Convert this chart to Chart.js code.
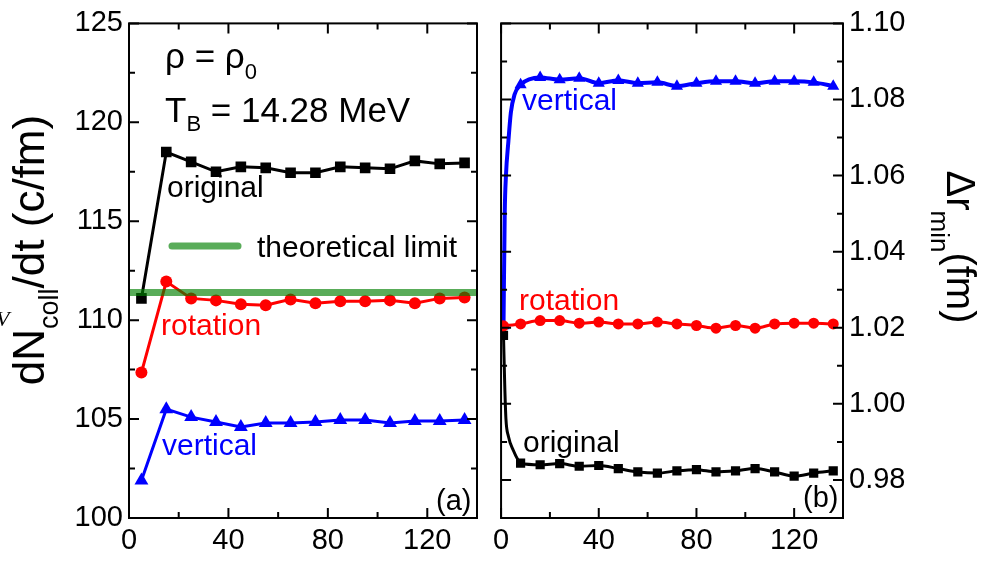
<!DOCTYPE html>
<html>
<head>
<meta charset="utf-8">
<script src="https://cdn.jsdelivr.net/npm/chart.js@4/dist/chart.umd.min.js"></script>
<style>
  html, body { margin: 0; padding: 0; background: #fff; }
  #page { position: relative; width: 984px; height: 561px; overflow: hidden; background: #fff; }
  .panel { position: absolute; top: 0; height: 561px; }
  #panelA { left: 0; width: 490px; }
  #panelB { left: 487px; width: 497px; }
</style>
</head>
<body>
<div id="page">
  <div class="panel" id="panelA"><canvas id="chartA"></canvas></div>
  <div class="panel" id="panelB"><canvas id="chartB"></canvas></div>
</div>
<script>
// ---- (a) collision rate dN_coll/dt (c/fm) versus time ----
const timeA = [5, 15, 25, 35, 45, 55, 65, 75, 85, 95, 105, 115, 125, 135];
const rateOriginal = [111.1, 118.5, 118.0, 117.5, 117.75, 117.7, 117.45, 117.45, 117.75, 117.7, 117.65, 118.05, 117.9, 117.95];
const rateRotation = [107.35, 111.95, 111.1, 111.0, 110.8, 110.75, 111.05, 110.85, 110.95, 110.95, 111.0, 110.85, 111.1, 111.15];
const rateVertical = [101.9, 105.5, 105.1, 104.85, 104.6, 104.8, 104.8, 104.85, 104.95, 104.95, 104.8, 104.9, 104.9, 104.95];
const limitTime = [0, 140];
const limitRate = [111.4, 111.4];

// ---- (b) minimum separation Δr_min (fm) versus time ----
const timeB = [1, 8, 16, 24, 32, 40, 48, 56, 64, 72, 80, 88, 96, 104, 112, 120, 128, 136];
const sepOriginal = [1.018, 0.9844, 0.9840, 0.9843, 0.9836, 0.9838, 0.9830, 0.9821, 0.9818, 0.9824, 0.9827, 0.9821, 0.9824, 0.9830, 0.9821, 0.9810, 0.9818, 0.9824];
const sepRotation = [1.0205, 1.0210, 1.0219, 1.0219, 1.0212, 1.0215, 1.0210, 1.0210, 1.0215, 1.0210, 1.0206, 1.0199, 1.0206, 1.0199, 1.0210, 1.0212, 1.0212, 1.0210];
const sepVertical = [1.0205, 1.0839, 1.0858, 1.0852, 1.0856, 1.0843, 1.0850, 1.0843, 1.0845, 1.0835, 1.0843, 1.0848, 1.0848, 1.0843, 1.0848, 1.0848, 1.0845, 1.0835];
// fast initial transient (curve only, no markers)
const earlyTimeOriginal = [1.5, 2, 3, 5, 7];
const earlySepOriginal = [1.005, 0.996, 0.9915, 0.9878, 0.9852];
const earlyTimeVertical = [1.5, 2, 3, 4, 5.5];
const earlySepVertical = [1.050, 1.060, 1.069, 1.0765, 1.0813];

// ---- axis ticks ----
const timeTicks = [0, 40, 80, 120];
const timeMinor = [20, 60, 100];
const rateTicks = [100, 105, 110, 115, 120, 125];
const rateMinor = [102.5, 107.5, 112.5, 117.5, 122.5];
const sepTicks = [0.98, 1.00, 1.02, 1.04, 1.06, 1.08, 1.10];
const sepMinor = [0.97, 0.99, 1.01, 1.03, 1.05, 1.07, 1.09];

const FONT = '"Liberation Sans", Arial, sans-serif';
Chart.defaults.font.family = FONT;
Chart.defaults.color = '#000';

const pts = (xs, ys) => xs.map((x, i) => ({ x, y: ys[i] }));
const withEarly = (xs, ys, ex, ey) => pts(xs, ys).concat(pts(ex, ey)).sort((a, b) => a.x - b.x);

// boxed frame with inward major/minor ticks on all four sides
function frameTicks(xMajor, xMinor, yMajor, yMinor) {
  return {
    id: 'frameTicks',
    afterDatasetsDraw(chart) {
      const { ctx, chartArea: a, scales } = chart;
      const xs = scales.x, ys = scales.y;
      ctx.save();
      ctx.strokeStyle = '#000';
      ctx.lineWidth = 2;
      ctx.beginPath();
      const mark = (vals, len, horiz) => vals.forEach(v => {
        if (horiz) {
          const p = xs.getPixelForValue(v);
          ctx.moveTo(p, a.bottom); ctx.lineTo(p, a.bottom - len);
          ctx.moveTo(p, a.top); ctx.lineTo(p, a.top + len);
        } else {
          const p = ys.getPixelForValue(v);
          ctx.moveTo(a.left, p); ctx.lineTo(a.left + len, p);
          ctx.moveTo(a.right, p); ctx.lineTo(a.right - len, p);
        }
      });
      mark(xMajor, 10, true); mark(xMinor, 6, true);
      mark(yMajor, 10, false); mark(yMinor, 6, false);
      ctx.stroke();
      ctx.strokeRect(a.left, a.top, a.right - a.left, a.bottom - a.top);
      ctx.restore();
    }
  };
}

// text made of runs: [string, size, baselineShift]
function drawRuns(ctx, x, y, runs, color, rot, centred) {
  ctx.save();
  ctx.translate(x, y);
  ctx.rotate(rot || 0);
  ctx.fillStyle = color;
  ctx.textAlign = 'left';
  ctx.textBaseline = 'alphabetic';
  let w = 0;
  runs.forEach(r => { ctx.font = r[1] + 'px ' + FONT; w += ctx.measureText(r[0]).width; });
  let cx = centred ? -w / 2 : 0;
  runs.forEach(r => {
    ctx.font = r[1] + 'px ' + FONT;
    ctx.fillText(r[0], cx, r[2] || 0);
    cx += ctx.measureText(r[0]).width;
  });
  ctx.restore();
}

function textLayer(draw) {
  return { id: 'textLayer', afterDraw(chart) { draw(chart.ctx); } };
}

function scaleOpts(min, max, ticks, fitProp, fitVal, extra) {
  return Object.assign({
    type: 'linear', min, max,
    grid: { display: false, drawTicks: false },
    border: { display: false },
    ticks: { font: { size: 29 }, color: '#000', padding: 6, maxRotation: 0, autoSkip: false,
             callback: v => (max < 2 ? v.toFixed(2) : String(v)) },
    afterBuildTicks: s => { s.ticks = ticks.map(v => ({ value: v })); },
    afterFit: s => { s[fitProp] = fitVal; }
  }, extra || {});
}

const common = {
  responsive: true, maintainAspectRatio: false, animation: false, devicePixelRatio: 1,
  plugins: { legend: { display: false }, tooltip: { enabled: false } }
};

// ---------- panel (a) ----------
new Chart(document.getElementById('chartA'), {
  type: 'line',
  data: {
    datasets: [
      { label: 'theoretical limit', data: pts(limitTime, limitRate), borderColor: 'rgba(0,128,0,0.65)',
        borderWidth: 7, pointRadius: 0, borderCapStyle: 'butt', order: 0 },
      { label: 'original', data: pts(timeA, rateOriginal), borderColor: '#000', backgroundColor: '#000',
        borderWidth: 3, pointStyle: 'rect', pointRadius: 7.5, pointBorderWidth: 0, order: 1 },
      { label: 'rotation', data: pts(timeA, rateRotation), borderColor: '#ff0000', backgroundColor: '#ff0000',
        borderWidth: 3, pointStyle: 'circle', pointRadius: 6, pointBorderWidth: 0, order: 2 },
      { label: 'vertical', data: pts(timeA, rateVertical), borderColor: '#0000ff', backgroundColor: '#0000ff',
        borderWidth: 3, pointStyle: 'triangle', pointRadius: 8, pointBorderWidth: 0, order: 3 }
    ]
  },
  options: Object.assign({}, common, {
    layout: { padding: { top: 20, right: 13, left: 0, bottom: 0 } },
    scales: {
      x: scaleOpts(0, 140, timeTicks, 'height', 43),
      y: scaleOpts(100, 125, rateTicks, 'width', 129, { position: 'left' })
    }
  }),
  plugins: [
    frameTicks(timeTicks, timeMinor, rateTicks, rateMinor),
    textLayer(ctx => {
      drawRuns(ctx, 165, 68, [['ρ = ρ', 35], ['0', 22, 11]], '#000');
      drawRuns(ctx, 165, 122, [['T', 35], ['B', 22, 9], [' = 14.28 MeV', 35]], '#000');
      drawRuns(ctx, 167, 197, [['original', 30]], '#000');
      drawRuns(ctx, 257, 257, [['theoretical limit', 30]], '#000');
      drawRuns(ctx, 161, 335, [['rotation', 30]], '#ff0000');
      drawRuns(ctx, 162, 455, [['vertical', 30]], '#0000ff');
      drawRuns(ctx, 436, 510, [['(a)', 29]], '#000');
      // legend swatch for the limit line
      ctx.save();
      ctx.strokeStyle = 'rgba(0,128,0,0.65)';
      ctx.lineWidth = 7; ctx.lineCap = 'round';
      ctx.beginPath(); ctx.moveTo(172, 246); ctx.lineTo(238, 246); ctx.stroke();
      ctx.restore();
      // y-axis title
      drawRuns(ctx, 44, 250, [['dN', 44], ['coll', 27, 14], ['/dt (c/fm)', 44]], '#000', -Math.PI / 2, true);
      ctx.save();
      ctx.font = 'italic 22px "Liberation Serif", serif';
      ctx.fillStyle = '#000';
      ctx.fillText('V', -4, 326);
      ctx.restore();
    })
  ]
});

// ---------- panel (b) ----------
const markerOnly = r => ctx => (timeB.includes(ctx.raw.x) ? r : 0);
new Chart(document.getElementById('chartB'), {
  type: 'line',
  data: {
    datasets: [
      { label: 'rotation', data: pts(timeB, sepRotation), borderColor: '#ff0000', backgroundColor: '#ff0000',
        borderWidth: 3, pointStyle: 'circle', pointRadius: markerOnly(5.5), pointBorderWidth: 0,
        cubicInterpolationMode: 'monotone', order: 1 },
      { label: 'vertical', data: withEarly(timeB, sepVertical, earlyTimeVertical, earlySepVertical),
        borderColor: '#0000ff', backgroundColor: '#0000ff', borderWidth: 4, pointStyle: 'triangle',
        pointRadius: markerOnly(7), pointBorderWidth: 0, cubicInterpolationMode: 'monotone', order: 2 },
      { label: 'original', data: withEarly(timeB, sepOriginal, earlyTimeOriginal, earlySepOriginal),
        borderColor: '#000', backgroundColor: '#000', borderWidth: 3, pointStyle: 'rect',
        pointRadius: markerOnly(6.5), pointBorderWidth: 0, cubicInterpolationMode: 'monotone', order: 3 }
    ]
  },
  options: Object.assign({}, common, {
    layout: { padding: { top: 20, right: 0, left: 9, bottom: 0 } },
    scales: {
      x: scaleOpts(0, 140, timeTicks, 'height', 43),
      y: scaleOpts(0.97, 1.10, sepTicks, 'width', 141, { position: 'right' })
    }
  }),
  plugins: [
    frameTicks(timeTicks, timeMinor, sepTicks, sepMinor),
    textLayer(ctx => {
      drawRuns(ctx, 35, 110, [['vertical', 30]], '#0000ff');
      drawRuns(ctx, 32, 310, [['rotation', 30]], '#ff0000');
      drawRuns(ctx, 36, 452, [['original', 30]], '#000');
      drawRuns(ctx, 316, 507, [['(b)', 29]], '#000');
      // right-hand axis title
      drawRuns(ctx, 460, 247, [['Δr', 40], ['min', 26, 16], ['(fm)', 40]], '#000', Math.PI / 2, true);
    })
  ]
});
</script>
</body>
</html>
